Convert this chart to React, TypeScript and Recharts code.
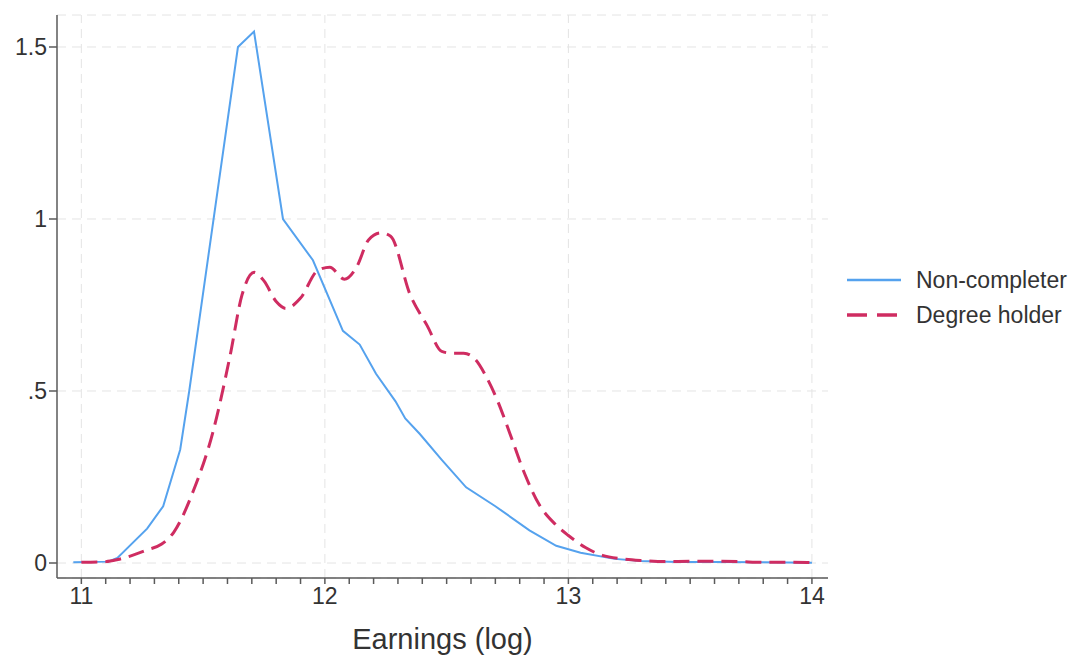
import { LineChart, Line, XAxis, YAxis, CartesianGrid, ReferenceLine, Label } from "recharts";

// kernel density, non-completers (x = log earnings)
const nonCompX = [10.967, 11.11, 11.148, 11.27, 11.336, 11.406, 11.443, 11.643, 11.709, 11.828, 11.951, 12.074, 12.143, 12.21, 12.29, 12.33, 12.39, 12.48, 12.58, 12.7, 12.84, 12.95, 13.05, 13.19, 13.3, 13.45, 13.6, 13.8, 14.0];
const nonCompY = [0.002, 0.004, 0.015, 0.1, 0.165, 0.33, 0.5, 1.5, 1.545, 1.0, 0.88, 0.675, 0.635, 0.55, 0.47, 0.42, 0.375, 0.3, 0.22, 0.165, 0.095, 0.05, 0.03, 0.012, 0.006, 0.003, 0.003, 0.002, 0.001];

// kernel density, degree holders
const degreeX = [11.0, 11.1, 11.15, 11.27, 11.33, 11.38, 11.46, 11.54, 11.61, 11.66, 11.71, 11.75, 11.8, 11.84, 11.9, 11.97, 12.02, 12.08, 12.13, 12.18, 12.23, 12.27, 12.35, 12.42, 12.48, 12.52, 12.57, 12.62, 12.66, 12.71, 12.76, 12.82, 12.88, 12.95, 13.0, 13.07, 13.14, 13.22, 13.3, 13.4, 13.5, 13.6, 13.7, 13.8, 13.9, 14.0];
const degreeY = [0.002, 0.004, 0.01, 0.038, 0.055, 0.09, 0.21, 0.38, 0.6, 0.78, 0.845, 0.82, 0.76, 0.74, 0.77, 0.85, 0.86, 0.825, 0.86, 0.94, 0.96, 0.95, 0.78, 0.69, 0.615, 0.61, 0.61, 0.59, 0.545, 0.47, 0.376, 0.26, 0.17, 0.11, 0.08, 0.045, 0.022, 0.012, 0.007, 0.004, 0.005, 0.005, 0.004, 0.002, 0.002, 0.001];

const xMajor = [11, 12, 13, 14];
const yTicks = [0, 0.5, 1, 1.5];
const yTickLabels = ["0", ".5", "1", "1.5"];
const seriesNames = ["Non-completer", "Degree holder"];

const nonCompData = nonCompX.map((x, i) => ({ x, y: nonCompY[i] }));
const degreeData = degreeX.map((x, i) => ({ x, y: degreeY[i] }));
const xTicks = Array.from({ length: 31 }, (_, i) => (110 + i) / 10);

const BLUE = "#55a2ee";
const RED = "#cf2c61";
const AXIS = "#5a5a5a";
const GRID = "#e4e4e4";
const FONT = "'Liberation Sans', Arial, sans-serif";

function LegendBox() {
  return (
    <svg width={230} height={70}>
      <line x1={4} y1={14} x2={58} y2={14} stroke={BLUE} strokeWidth={2.5} />
      <text x={73} y={14} dominantBaseline="central" fontSize={23} fill="#333" fontFamily={FONT}>
        {seriesNames[0]}
      </text>
      <line x1={4} y1={49} x2={58} y2={49} stroke={RED} strokeWidth={3.5} strokeDasharray="20 10" />
      <text x={73} y={49} dominantBaseline="central" fontSize={23} fill="#333" fontFamily={FONT}>
        {seriesNames[1]}
      </text>
    </svg>
  );
}

export default function App() {
  return (
    <div style={{ position: "absolute", left: 0, top: 0, width: 1070, height: 655, background: "#fff", fontFamily: FONT }}>
      <LineChart width={1070} height={655} margin={{ top: 15, right: 242, bottom: 0, left: 0 }}>
        <CartesianGrid vertical={false} stroke={GRID} strokeDasharray="9 6" />
        {xMajor.map((v) => (
          <ReferenceLine key={v} x={v} stroke={GRID} strokeDasharray="9 6" />
        ))}
        <XAxis
          dataKey="x"
          type="number"
          domain={[10.9, 14.066]}
          ticks={xTicks}
          interval={0}
          allowDataOverflow
          tickFormatter={(v: number) => (Number.isInteger(Math.round(v * 1000) / 1000) ? String(Math.round(v)) : "")}
          stroke={AXIS}
          strokeWidth={1.5}
          tickSize={6}
          tickMargin={4}
          height={77}
          tick={{ fill: "#333", fontSize: 23, fontFamily: FONT }}
        >
          <Label value="Earnings (log)" position="insideBottom" offset={6} fill="#333" fontSize={29} fontFamily={FONT} />
        </XAxis>
        <YAxis
          type="number"
          domain={[-0.0436, 1.593]}
          ticks={yTicks}
          interval={0}
          allowDataOverflow
          tickFormatter={(v: number) => yTickLabels[yTicks.indexOf(v)] ?? ""}
          stroke={AXIS}
          strokeWidth={1.5}
          tickSize={8}
          tickMargin={2}
          width={57}
          tick={{ fill: "#333", fontSize: 23, fontFamily: FONT }}
        />
        <Line
          data={nonCompData}
          dataKey="y"
          name={seriesNames[0]}
          type="linear"
          stroke={BLUE}
          strokeWidth={2}
          dot={false}
          isAnimationActive={false}
        />
        <Line
          data={degreeData}
          dataKey="y"
          name={seriesNames[1]}
          type="monotone"
          stroke={RED}
          strokeWidth={3}
          strokeDasharray="16 8"
          dot={false}
          isAnimationActive={false}
        />
      </LineChart>
      <div style={{ position: "absolute", left: 843, top: 266 }}>
        <LegendBox />
      </div>
    </div>
  );
}
